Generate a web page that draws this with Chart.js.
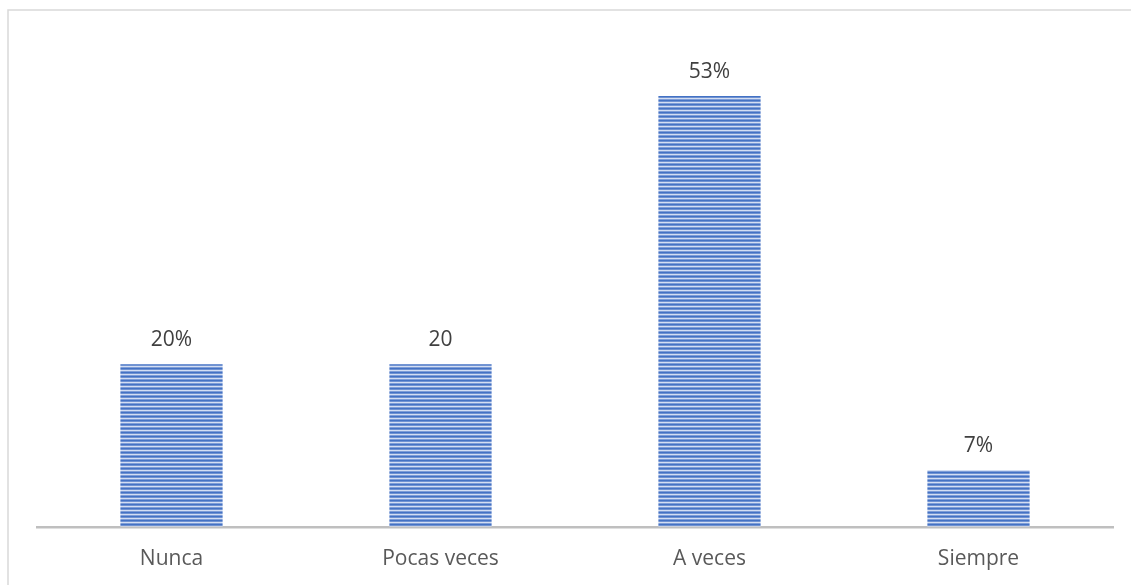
<!DOCTYPE html>
<html>
<head>
<meta charset="utf-8">
<script src="https://cdn.jsdelivr.net/npm/chart.js@4.4.1/dist/chart.umd.min.js"></script>
<style>
  html, body { margin: 0; padding: 0; background: #ffffff; }
  #wrap { position: relative; width: 1131px; height: 585px; }
  canvas { display: block; }
</style>
</head>
<body>
<div id="wrap"><canvas id="c" width="1131" height="585"></canvas></div>
<script>
// Response categories and shares
const categories = ['Nunca', 'Pocas veces', 'A veces', 'Siempre'];
const values = [20, 20, 53, 7];
const valueLabels = ['20%', '20', '53%', '7%'];

// Horizontal-striped blue fill for the bars
function stripeFill() {
  const p = document.createElement('canvas');
  p.width = 8; p.height = 4;
  const g = p.getContext('2d');
  const rows = ['#4472c4', '#6f92d2', '#d3def3', '#7e9dd7'];
  rows.forEach((c, i) => { g.fillStyle = c; g.fillRect(0, i, 8, 1); });
  return g.createPattern(p, 'repeat');
}

// Light frame on the top and left sides of the chart
const framePlugin = {
  id: 'frame',
  beforeDraw(chart) {
    const ctx = chart.ctx;
    ctx.save();
    ctx.strokeStyle = '#d9d9d9';
    ctx.lineWidth = 1.5;
    ctx.beginPath();
    ctx.moveTo(8, chart.height);
    ctx.lineTo(8, 10);
    ctx.lineTo(chart.width, 10);
    ctx.stroke();
    ctx.restore();
  }
};

// Value text above each bar
const valueLabelPlugin = {
  id: 'valueLabels',
  afterDatasetsDraw(chart) {
    const ctx = chart.ctx;
    const meta = chart.getDatasetMeta(0);
    ctx.save();
    ctx.fillStyle = '#404040';
    ctx.font = '21px "Open Sans", "Noto Sans", sans-serif';
    ctx.textAlign = 'center';
    ctx.textBaseline = 'middle';
    meta.data.forEach((bar, i) => {
      ctx.fillText(valueLabels[i], bar.x, bar.y - 24);
    });
    ctx.restore();
  }
};

new Chart(document.getElementById('c'), {
  type: 'bar',
  data: {
    labels: categories,
    datasets: [{
      data: values,
      backgroundColor: stripeFill(),
      borderWidth: 0,
      categoryPercentage: 1,
      barPercentage: 0.38
    }]
  },
  options: {
    responsive: false,
    animation: false,
    layout: { padding: { left: 37, right: 18, top: 39, bottom: -7 } },
    plugins: { legend: { display: false }, tooltip: { enabled: false } },
    scales: {
      x: {
        grid: { display: false, drawTicks: false },
        border: { display: true, color: '#bfbfbf', width: 2.5 },
        ticks: {
          color: '#595959',
          padding: 20,
          font: { family: '"Open Sans", "Noto Sans", sans-serif', size: 21 }
        }
      },
      y: {
        display: false,
        min: 0,
        max: 60
      }
    }
  },
  plugins: [framePlugin, valueLabelPlugin]
});
</script>
</body>
</html>
